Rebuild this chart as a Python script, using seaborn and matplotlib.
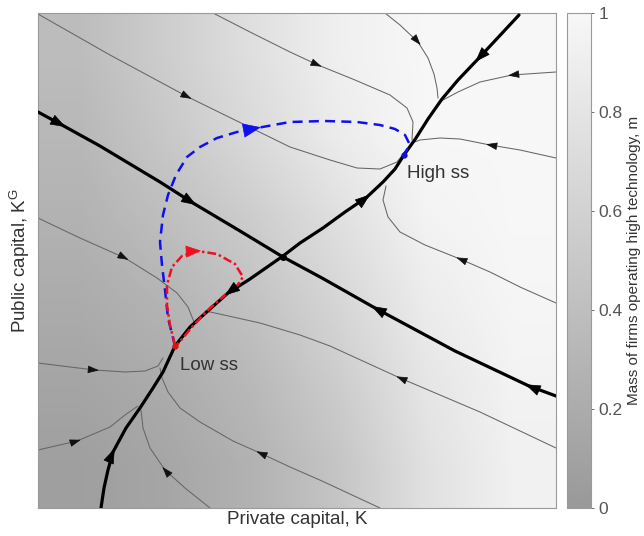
import numpy as np
import pandas as pd
import matplotlib
matplotlib.use("Agg")
import matplotlib.pyplot as plt
from matplotlib.colors import LinearSegmentedColormap
import seaborn as sns

# background field: mass of firms using high technology, m (rows: K^G low -> high, cols: K low -> high)
m_grid = [
    [0.07, 0.14, 0.27, 0.47, 0.76, 0.93],
    [0.13, 0.20, 0.34, 0.55, 0.81, 0.95],
    [0.20, 0.29, 0.44, 0.65, 0.88, 0.98],
    [0.27, 0.40, 0.55, 0.75, 0.95, 1.00],
    [0.33, 0.50, 0.69, 0.88, 1.00, 1.00],
    [0.38, 0.56, 0.75, 0.92, 1.00, 1.00],
]
K_max, KG_max = 518, 495

# saddle paths (thick)
stable_arm = [(0, 396), (24, 383), (62, 362), (122, 326), (155, 305), (202, 277), (245, 251),
              (284, 230), (337, 200), (417, 157), (491, 122), (518, 112)]
unstable_arm = [(63, 0), (66, 20), (70, 38), (75, 56), (88, 80), (102, 100), (115, 120), (125, 136),
                (137, 162), (152, 181), (172, 199), (190, 215), (212, 229), (245, 252), (262, 265),
                (285, 280), (307, 296), (329, 311), (345, 326), (357, 339), (366, 353), (378, 370),
                (390, 389), (404, 409), (420, 428), (440, 449), (481, 493)]

# other trajectories (thin)
traj = {
    "t1": [(0, 494), (72, 453), (150, 411), (252, 361), (292, 348), (319, 340), (342, 339), (359, 346), (366, 355)],
    "t2": [(175, 495), (212, 476), (252, 456), (280, 443), (317, 428), (352, 413), (369, 400), (375, 386), (374, 368)],
    "t3": [(347, 495), (362, 483), (380, 466), (390, 450), (396, 434), (399, 420), (400, 410)],
    "t4": [(518, 436), (474, 433), (442, 426), (420, 416), (405, 408)],
    "t5": [(518, 350), (482, 358), (452, 363), (422, 369), (402, 370), (382, 368), (374, 365)],
    "t6": [(518, 205), (482, 221), (452, 236), (422, 249), (387, 263), (362, 276), (350, 291), (345, 308), (348, 322)],
    "t7": [(518, 60), (442, 96), (362, 130), (292, 162), (262, 173), (222, 185), (195, 191), (177, 195), (167, 197)],
    "t8": [(342, 0), (284, 27), (252, 41), (222, 55), (195, 67), (162, 86), (142, 100), (130, 116), (124, 130), (122, 140)],
    "t9": [(172, 0), (147, 20), (127, 38), (112, 60), (105, 80), (103, 98)],
    "t10": [(0, 145), (32, 141), (57, 138), (87, 136), (107, 137), (120, 142), (125, 150)],
    "t11": [(0, 58), (39, 67), (72, 81), (87, 93), (100, 102)],
    "t12": [(0, 290), (42, 270), (87, 250), (119, 230), (139, 215), (150, 201), (156, 186)],
}
# (curve, vertex index, +1 along / -1 against point order)
traj_arrows = [("t1", 2, 1), ("t2", 3, 1), ("t3", 2, 1), ("t4", 1, 1), ("t5", 2, 1), ("t6", 3, 1),
               ("t7", 2, 1), ("t8", 3, 1), ("t9", 2, 1), ("t10", 2, 1), ("t11", 1, 1), ("t12", 2, 1)]
stable_arrows = [(1, 1), (4, 1), (8, -1), (10, -1)]
unstable_arrows = [(3, 1), (11, -1), (17, 1), (25, -1)]

# transition paths
path_blue = [(137, 162), (130, 190), (127, 218), (124, 243), (122, 266), (125, 293), (130, 313), (138, 333),
             (149, 351), (162, 361), (179, 370), (199, 376), (219, 380), (252, 386), (287, 387), (319, 386),
             (342, 383), (357, 379), (367, 373), (372, 363), (366, 354)]
path_red = [(137, 163), (132, 183), (129, 203), (129, 223), (134, 241), (144, 252), (159, 257), (179, 254),
            (197, 244), (205, 231), (199, 222), (187, 213), (172, 200), (154, 181), (139, 163)]

low_ss = (137, 162)
saddle = (245, 251)
high_ss = (366, 353)

sns.set_style("white")
plt.rcParams["font.family"] = ["Liberation Sans", "DejaVu Sans"]
plt.rcParams["mathtext.default"] = "regular"

fig = plt.figure(figsize=(6.44, 5.36), dpi=100)
ax = fig.add_axes([38 / 644, 28 / 536, 518 / 644, 495 / 536])
cax = fig.add_axes([567 / 644, 28 / 536, 24 / 644, 495 / 536])

cmap = LinearSegmentedColormap.from_list("mgray", [(0.60, 0.60, 0.60), (0.97, 0.97, 0.97)])
im = ax.imshow(np.array(m_grid), extent=(0, K_max, 0, KG_max), origin="lower", cmap=cmap,
               vmin=0, vmax=1, interpolation="bilinear", aspect="auto", zorder=0)


def curve(pts, **kw):
    df = pd.DataFrame(pts, columns=["K", "KG"])
    sns.lineplot(data=df, x="K", y="KG", sort=False, estimator=None, ax=ax, **kw)


def arrow(pts, i, sign, color, size, width=0.18):
    p = np.array(pts[i], float)
    d = (np.array(pts[min(i + 1, len(pts) - 1)], float) - np.array(pts[max(i - 1, 0)], float)) * sign
    d /= np.hypot(*d)
    ax.annotate("", xy=p + d * 4, xytext=p - d * 4,
                arrowprops=dict(arrowstyle=f"-|>,head_length=0.5,head_width={width}", mutation_scale=size,
                                color=color, lw=0.5, shrinkA=0, shrinkB=0), zorder=6)


for name, pts in traj.items():
    curve(pts, color="#666666", lw=0.75, zorder=2)
for name, i, s in traj_arrows:
    arrow(traj[name], i, s, "#111111", 14, 0.17)

curve(stable_arm, color="black", lw=2.3, zorder=3)
curve(unstable_arm, color="black", lw=2.3, zorder=3)
for i, s in stable_arrows:
    arrow(stable_arm, i, s, "black", 20)
for i, s in unstable_arrows:
    arrow(unstable_arm, i, s, "black", 20)

curve(path_blue, color="#1010ee", lw=1.8, dashes=(4, 2.5), zorder=4)
arrow(path_blue, 12, 1, "#1010ee", 24, 0.2)
curve(path_red, color="#ee1020", lw=1.8, dashes=(3.5, 1.2, 1, 1.2), zorder=5)
arrow(path_red, 6, 1, "#ee1020", 20, 0.2)

ax.plot(*saddle, "o", color="black", ms=4, zorder=7)
ax.plot(*low_ss, "o", color="#dd1010", ms=3.5, zorder=7)
ax.plot(*high_ss, "o", color="#1010cc", ms=3.5, zorder=7)

ax.text(high_ss[0] + 3, high_ss[1] - 18, "High ss", fontsize=13.5, color="#333333", va="center", zorder=8)
ax.text(low_ss[0] + 5, low_ss[1] - 19, "Low ss", fontsize=13.5, color="#333333", va="center", zorder=8)

ax.set_xlim(0, K_max)
ax.set_ylim(0, KG_max)
ax.set_xticks([])
ax.set_yticks([])
ax.set_xlabel("Private capital, K", fontsize=13.5, color="#333333", labelpad=2)
ax.set_ylabel("Public capital, K$^G$", fontsize=13.5, color="#333333", labelpad=4)
for sp in ax.spines.values():
    sp.set_color("#9a9a9a")
    sp.set_linewidth(0.8)

cb = fig.colorbar(im, cax=cax, ticks=[0, 0.2, 0.4, 0.6, 0.8, 1])
cb.ax.set_yticklabels(["0", "0.2", "0.4", "0.6", "0.8", "1"])
cb.ax.tick_params(labelsize=12.5, colors="#555555", length=2, width=0.6)
cb.outline.set_edgecolor("#9a9a9a")
cb.outline.set_linewidth(0.8)
cb.set_label("Mass of firms operating high technology, m", fontsize=11, color="#333333", labelpad=3)

fig.savefig("out.png", dpi=100)
